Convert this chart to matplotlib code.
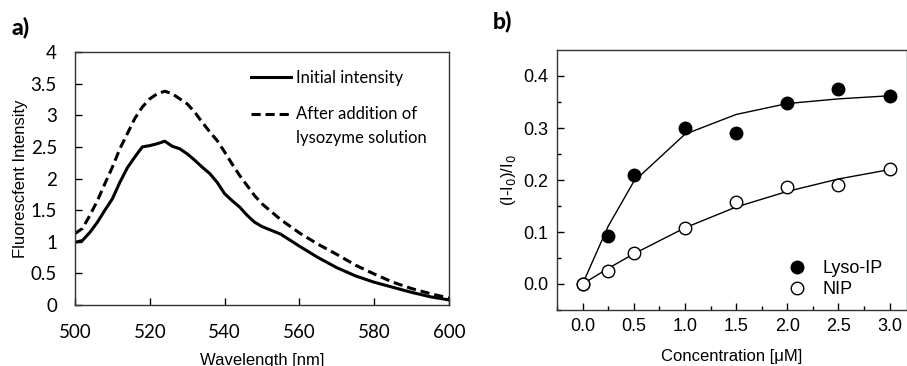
import matplotlib
matplotlib.use("Agg")
import matplotlib.pyplot as plt
from matplotlib.lines import Line2D

# Panel a data
wavelength = [500, 502, 504, 506, 508, 510, 512, 514, 516, 518, 520, 522, 524, 526, 528, 530,
              532, 534, 536, 538, 540, 542, 544, 546, 548, 550,
              555, 560, 565, 570, 575, 580, 585, 590, 595, 600]
initial = [0.99, 1.02, 1.15, 1.31, 1.50, 1.68, 1.94, 2.17, 2.34, 2.50, 2.52, 2.55, 2.59, 2.51, 2.47, 2.39,
           2.29, 2.18, 2.08, 1.94, 1.76, 1.65, 1.55, 1.42, 1.31, 1.24,
           1.12, 0.93, 0.75, 0.59, 0.46, 0.36, 0.28, 0.20, 0.13, 0.08]
after = [1.13, 1.21, 1.42, 1.65, 1.92, 2.18, 2.47, 2.71, 2.95, 3.13, 3.26, 3.34, 3.38, 3.34, 3.26, 3.18,
         3.05, 2.89, 2.74, 2.60, 2.42, 2.23, 2.05, 1.89, 1.73, 1.60,
         1.35, 1.14, 0.96, 0.80, 0.63, 0.49, 0.36, 0.26, 0.18, 0.11]

# Panel b data
conc = [0.0, 0.25, 0.5, 1.0, 1.5, 2.0, 2.5, 3.0]
lyso_ip = [0.0, 0.092, 0.21, 0.300, 0.291, 0.348, 0.375, 0.361]
lyso_fit = [0.0, 0.111, 0.197, 0.288, 0.326, 0.347, 0.356, 0.362]
nip = [0.0, 0.025, 0.060, 0.108, 0.157, 0.187, 0.191, 0.222]
nip_fit = [0.0, 0.030, 0.058, 0.108, 0.148, 0.178, 0.202, 0.220]

W, H = 907, 366
fig = plt.figure(figsize=(W / 100, H / 100), dpi=100)

calib = ["Lato", "DejaVu Sans"]
arial = ["Liberation Sans", "DejaVu Sans"]
dash = (0, (3, 1.6))

# ---------- Panel a ----------
axa = fig.add_axes([75 / W, 1 - 305 / H, (449 - 75) / W, (305 - 52) / H])
axa.plot(wavelength, initial, color="black", lw=2.2)
axa.plot(wavelength, after, color="black", lw=2.2, ls=dash)
axa.set_xlim(500, 600)
axa.set_ylim(0, 4)
axa.set_xticks([500, 520, 540, 560, 580, 600])
axa.set_yticks([0, 0.5, 1, 1.5, 2, 2.5, 3, 3.5, 4])
axa.set_yticklabels(["0", "0.5", "1", "1.5", "2", "2.5", "3", "3.5", "4"])
axa.tick_params(direction="in", length=5, width=1, labelsize=13.5)
axa.tick_params(axis="x", pad=14)
axa.tick_params(axis="y", pad=13)
for lab in axa.get_xticklabels() + axa.get_yticklabels():
    lab.set_family(calib)
for s in axa.spines.values():
    s.set_linewidth(1.0)
    s.set_color("#333333")
axa.set_xlabel("Wavelength [nm]", fontsize=12, family=arial, labelpad=8)
axa.set_ylabel("Fluorescfent Intensity", fontsize=12, family=arial, labelpad=2)
hs = [Line2D([], [], color="black", lw=2.2), Line2D([], [], color="black", lw=2.2, ls=dash)]
leg = axa.legend(hs, ["Initial intensity", "After addition of"],
                 loc="upper left", bbox_to_anchor=(0.43, 0.99), frameon=False,
                 prop={"family": calib, "size": 12}, handlelength=2.4, handletextpad=0.3,
                 labelspacing=1.25)
fig.canvas.draw()
t2 = leg.get_texts()[1]
bb = t2.get_window_extent()
x0_ax = axa.transAxes.inverted().transform((bb.x0, bb.y0))[0]
axa.text(x0_ax, 0.660, "lysozyme solution", transform=axa.transAxes, fontsize=12,
         family=calib, ha="left", va="center")
fig.text(12 / W, 1 - 27 / H, "a)", fontsize=16.5, fontweight="black", family=calib, va="center")

# ---------- Panel b ----------
axb = fig.add_axes([557 / W, 1 - 310 / H, (907 - 557) / W, (310 - 50) / H])
axb.plot(conc, lyso_fit, color="black", lw=1.0, zorder=2)
axb.plot(conc, nip_fit, color="black", lw=1.0, zorder=2)
axb.plot(conc, lyso_ip, "o", color="black", ms=9, zorder=3, label="Lyso-IP")
axb.plot(conc, nip, "o", mfc="white", mec="black", mew=1.0, ms=9, zorder=4, label="NIP")
axb.set_xlim(-0.25, 3.17)
axb.set_ylim(-0.05, 0.45)
axb.set_xticks([0.0, 0.5, 1.0, 1.5, 2.0, 2.5, 3.0])
axb.set_xticklabels(["0.0", "0.5", "1.0", "1.5", "2.0", "2.5", "3.0"])
axb.set_yticks([0.0, 0.1, 0.2, 0.3, 0.4])
axb.set_yticklabels(["0.0", "0.1", "0.2", "0.3", "0.4"])
axb.set_xticks([-0.25, 0.25, 0.75, 1.25, 1.75, 2.25, 2.75], minor=True)
axb.set_yticks([-0.05, 0.05, 0.15, 0.25, 0.35], minor=True)
axb.tick_params(which="major", direction="in", length=5, width=1, labelsize=13, pad=6)
axb.tick_params(which="minor", direction="in", length=3, width=1)
for lab in axb.get_xticklabels() + axb.get_yticklabels():
    lab.set_family(arial)
for s in axb.spines.values():
    s.set_linewidth(1.0)
    s.set_color("#333333")
axb.set_xlabel("Concentration [\u03bcM]", fontsize=12, family=arial, labelpad=10)
axb.set_ylabel("(I-I$_0$)/I$_0$", fontsize=12, family=arial, labelpad=4)
axb.legend(loc="lower right", bbox_to_anchor=(0.977, -0.016), frameon=False,
           prop={"family": arial, "size": 13}, handletextpad=0.9, labelspacing=0.2,
           handlelength=1.0)
fig.text(493 / W, 1 - 21 / H, "b)", fontsize=16.5, fontweight="black", family=calib, va="center")

fig.savefig("out.png", dpi=100)
